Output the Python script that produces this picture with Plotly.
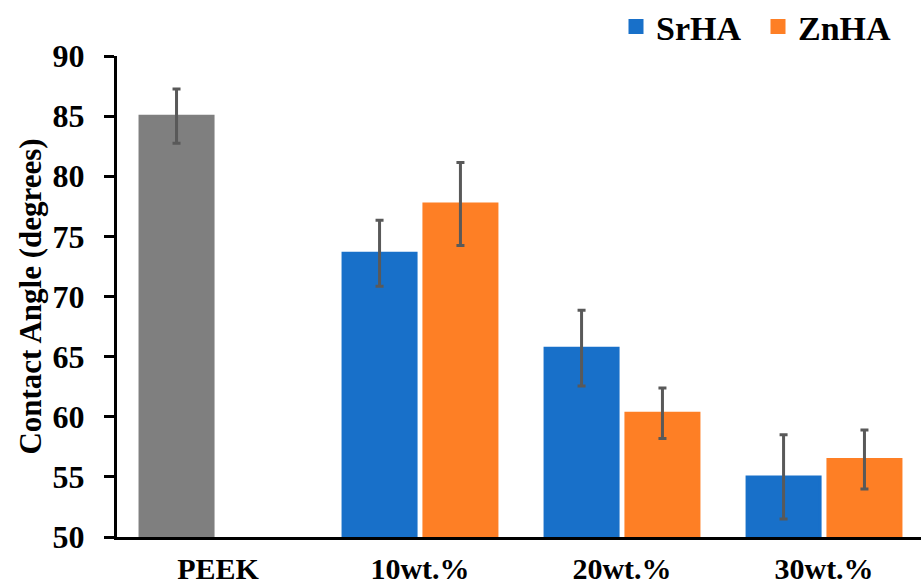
import plotly.graph_objects as go

categories = ["PEEK", "10wt.%", "20wt.%", "30wt.%"]
peek_x = ["PEEK"]
peek_val = [85.0]
peek_err = [2.25]
groups = ["10wt.%", "20wt.%", "30wt.%"]
srha_val = [73.6, 65.7, 55.0]
srha_err = [2.75, 3.15, 3.5]
znha_val = [77.7, 60.3, 56.45]
znha_err = [3.45, 2.1, 2.45]

FONT = "Liberation Serif"
ERR = dict(type="data", color="#595959", thickness=3, width=4)
BLUE = "#1870c9"
ORANGE = "#fe7f25"
OUT = 3  # outline width (also enlarges legend squares)
W = 0.3614

fig = go.Figure()
fig.add_trace(go.Bar(x=peek_x, y=peek_val, name="PEEK", showlegend=False,
                     marker=dict(color="#7f7f7f", line=dict(width=OUT, color="#7f7f7f")),
                     width=W, offset=-0.386,
                     error_y=dict(array=peek_err, **ERR)))
fig.add_trace(go.Bar(x=groups, y=srha_val, name="SrHA",
                     marker=dict(color=BLUE, line=dict(width=OUT, color=BLUE)),
                     width=W, offset=-0.381,
                     error_y=dict(array=srha_err, **ERR)))
fig.add_trace(go.Bar(x=groups, y=znha_val, name="ZnHA",
                     marker=dict(color=ORANGE, line=dict(width=OUT, color=ORANGE)),
                     width=W, offset=0.0194,
                     error_y=dict(array=znha_err, **ERR)))

fig.update_layout(
    width=921, height=585,
    margin=dict(l=117, r=0, t=56, b=48, autoexpand=False),
    barmode="overlay",
    plot_bgcolor="white", paper_bgcolor="white",
    font=dict(family=FONT, color="black", size=31, weight="bold"),
    legend=dict(orientation="h", xref="container", yref="container",
                x=616/921, xanchor="left", y=1 - 27/585, yanchor="middle",
                entrywidth=97, entrywidthmode="pixels",
                font=dict(size=34, family=FONT, weight="bold"),
                bgcolor="rgba(0,0,0,0)"),
    showlegend=True,
)
fig.update_xaxes(type="category", categoryorder="array", categoryarray=categories,
                 range=[-0.5, 3.48], showline=True, linecolor="black", linewidth=3,
                 ticks="", showgrid=False, zeroline=False, automargin=False,
                 tickfont=dict(size=30, family=FONT, weight="bold"),
                 ticklabelstandoff=3)
fig.update_yaxes(range=[50, 90], dtick=5, tick0=50, showline=True, linecolor="black",
                 linewidth=3, ticks="outside", ticklen=10, tickwidth=3, tickcolor="black",
                 showgrid=False, zeroline=False, automargin=False,
                 tickfont=dict(size=32, family=FONT, weight="bold"),
                 ticklabelstandoff=13,
                 title=dict(text="Contact Angle (degrees)", standoff=2,
                            font=dict(size=31, family=FONT, weight="bold")))

fig.write_html("out.html", config={"displayModeBar": False},
               post_script="document.body.style.margin='0px';")
